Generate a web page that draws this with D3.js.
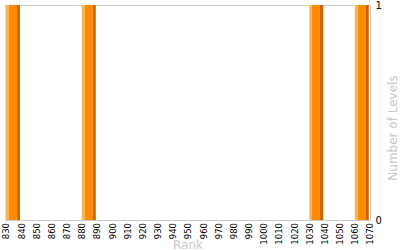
<!DOCTYPE html>
<html><head><meta charset="utf-8">
<script src="https://cdn.jsdelivr.net/npm/d3@7"></script>
<style>body{margin:0;background:#fff}svg{display:block}</style>
</head><body>
<svg id="c" width="400" height="250"></svg>
<script>
const binStarts = [830,840,850,860,870,880,890,900,910,920,930,940,950,960,970,980,990,1000,1010,1020,1030,1040,1050,1060];
const levels    = [1,0,0,0,0,1,0,0,0,0,0,0,0,0,0,0,0,0,0,0,1,0,0,1];
const xTicks = d3.range(830, 1071, 10);
const yTicks = [0, 1];

const svg = d3.select("#c");
const L = 5.5, R = 370.5, T = 5.5, B = 220.5;
const x = d3.scaleLinear().domain([830, 1070]).range([6, 370]);
const y = d3.scaleLinear().domain([0, 1]).range([220, 5]);

const defs = svg.append("defs");
const g = defs.append("linearGradient").attr("id","bg").attr("x1","0").attr("x2","1").attr("y1","0").attr("y2","0");
[[0,"#ffb255"],[0.21,"#ffb255"],[0.21,"#ff8c00"],[0.79,"#ff8c00"],[0.79,"#c46808"],[1,"#c46808"]]
  .forEach(([o,c])=>g.append("stop").attr("offset",o).attr("stop-color",c));

svg.append("line").attr("x1",L).attr("x2",R).attr("y1",T).attr("y2",T).attr("stroke","#c8c8c8");
svg.append("line").attr("x1",L).attr("x2",L).attr("y1",T).attr("y2",B).attr("stroke","#dcdcdc");

const data = binStarts.map((s,i)=>({s, v: levels[i]}));
svg.selectAll("rect.bar").data(data.filter(d=>d.v>0)).join("rect")
  .attr("class","bar")
  .attr("x", d=>x(d.s))
  .attr("width", d=>x(d.s+10)-x(d.s)-1.2)
  .attr("y", d=>y(d.v))
  .attr("height", d=>y(0)-y(d.v))
  .attr("fill","url(#bg)");

const xa = svg.append("g").attr("transform",`translate(0,${B})`)
  .call(d3.axisBottom(x).tickValues(xTicks).tickSize(0).tickFormat(d3.format("d")));
xa.select(".domain").attr("stroke","#c8c8c8").attr("d",`M${L},0H${R}`);
xa.selectAll("text").attr("font-family","DejaVu Sans").attr("font-size","8.5px").attr("fill","#000")
  .attr("transform","rotate(-90)").attr("text-anchor","end").attr("x",-2.5).attr("y",0).attr("dy","0.34em");

const ya = svg.append("g").attr("transform",`translate(${R},0)`)
  .call(d3.axisRight(y).tickValues(yTicks).tickSize(0).tickFormat(d3.format("d")));
ya.select(".domain").attr("stroke","#c8c8c8").attr("d",`M0,${T}V${B}`);
ya.selectAll("text").attr("font-family","DejaVu Sans").attr("font-size","10px").attr("fill","#000").attr("x",5);

svg.append("text").attr("x",(L+R)/2).attr("y",248.5).attr("text-anchor","middle")
  .attr("font-family","DejaVu Sans").attr("font-size","12px").attr("fill","#c8c8c8").text("Rank");
svg.append("text").attr("transform",`translate(397,128) rotate(-90)`).attr("text-anchor","middle")
  .attr("font-family","DejaVu Sans").attr("font-size","12px").attr("fill","#c8c8c8").text("Number of Levels");
</script>
</body></html>
